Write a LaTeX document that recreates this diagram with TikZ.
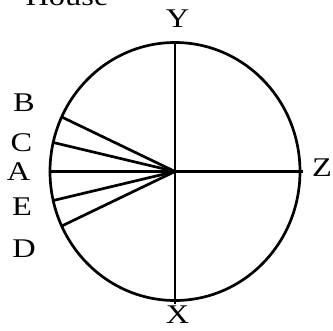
\documentclass[tikz,border=0pt]{standalone}
\usepackage{fontspec}
\setmainfont[FakeStretch=1.2]{Liberation Serif}
\usetikzlibrary{positioning}
\tikzset{lbl/.style = {anchor = base, inner sep = 0pt, font = \fontsize{27bp}{31bp}\selectfont},
         axis/.style = {line width = 2.7bp},
         rim/.style = {draw, line width = 2.7bp},
}
\begin{document}
\begin{tikzpicture}[x = 1bp, y = 1bp]
  \useasboundingbox (-175,-159.5) rectangle (158,171.5);

  \coordinate (O) at (0,0);
  \draw[rim] (O) ellipse [x radius = 125, y radius = 129];

  % points on the rim
  \coordinate (top) at (0,129);
  \coordinate (bot) at (0,-132);
  \coordinate (rgt) at (128,0);
  \coordinate (pA) at (-125,0);
  \coordinate (pB) at (155:125 and 129);
  \coordinate (pC) at (167:125 and 129);
  \coordinate (pE) at (193:125 and 129);
  \coordinate (pD) at (205:125 and 129);

  \node[lbl] (house) at (-108,166.5) {House};
  \node[lbl] (lB) at (-151,60.5) {B};
  \node[lbl] (lC) at (-153.5,20) {C};
  \node[lbl] (lA) at (-156.5,-8.5) {A};
  \node[lbl] (lE) at (-153,-43.5) {E};
  \node[lbl] (lD) at (-151,-86) {D};
  \node[lbl] (lY) at (2.5,144.5) {Y};
  \node[lbl] (lZ) at (147,-4.5) {Z};
  \node[lbl] (lX) at (2.5,-151.5) {X};

  \draw[axis] (top) -- (bot);
  \draw[axis] (pA) -- (rgt);
  \draw[axis] (O) -- (pB);
  \draw[axis] (O) -- (pC);
  \draw[axis] (O) -- (pE);
  \draw[axis] (O) -- (pD);

\end{tikzpicture}
\end{document}
